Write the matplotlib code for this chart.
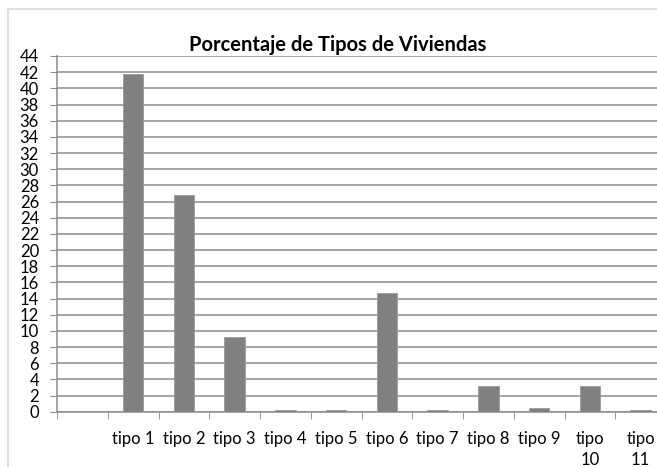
import numpy as np
import matplotlib.pyplot as plt
from matplotlib.patches import Rectangle

# datos
categorias = ['', 'tipo 1', 'tipo 2', 'tipo 3', 'tipo 4', 'tipo 5', 'tipo 6',
              'tipo 7', 'tipo 8', 'tipo 9', 'tipo\n10', 'tipo\n11']
porcentajes = [0, 41.8, 26.8, 9.2, 0.2, 0.2, 14.7, 0.2, 3.2, 0.4, 3.2, 0.2]
y_ticks = list(range(0, 46, 2))

plt.rcParams['font.family'] = ['Lato', 'DejaVu Sans']

W, H = 657, 467
fig = plt.figure(figsize=(W / 100, H / 100), dpi=100)
fig.patch.set_facecolor('white')

# borde del area del grafico
fig.patches.append(Rectangle((8 / W, -0.1), 1.2, (H - 9) / H + 0.1,
                             transform=fig.transFigure, fill=False,
                             edgecolor='#d9d9d9', linewidth=1.2))

ax = fig.add_axes([57 / W, 55.3 / H, 609 / W, 355.7 / H])
x = np.arange(len(categorias))
ax.bar(x, porcentajes, width=0.4, color='#808080', edgecolor='#9a9a9a',
       linewidth=0.6, zorder=3)

ax.set_xlim(-0.5, len(categorias) - 0.5)
ax.set_ylim(0, 44)
ax.set_yticks(y_ticks)
ax.set_yticklabels([str(v) for v in y_ticks], fontsize=12)
ax.yaxis.grid(True, color='#8c8c8c', linewidth=1.1, zorder=0)

ax.set_xticks(x)
ax.set_xticklabels(categorias, fontsize=12, linespacing=1.35)
ax.set_xticks(np.arange(-0.5, len(categorias), 1), minor=True)
ax.tick_params(axis='x', which='major', length=0, pad=14)
ax.tick_params(axis='x', which='minor', length=5, color='#8c8c8c', direction='out')
ax.tick_params(axis='y', length=5, color='#8c8c8c', direction='out', pad=8)

for s in ['top', 'right']:
    ax.spines[s].set_visible(False)
for s in ['left', 'bottom']:
    ax.spines[s].set_color('#8c8c8c')
    ax.spines[s].set_linewidth(1.1)

fig.text(338 / W, 1 - 45 / H, 'Porcentaje de Tipos de Viviendas',
         ha='center', va='center', fontsize=14.5, fontweight='bold')

fig.savefig('out.png', dpi=100)
